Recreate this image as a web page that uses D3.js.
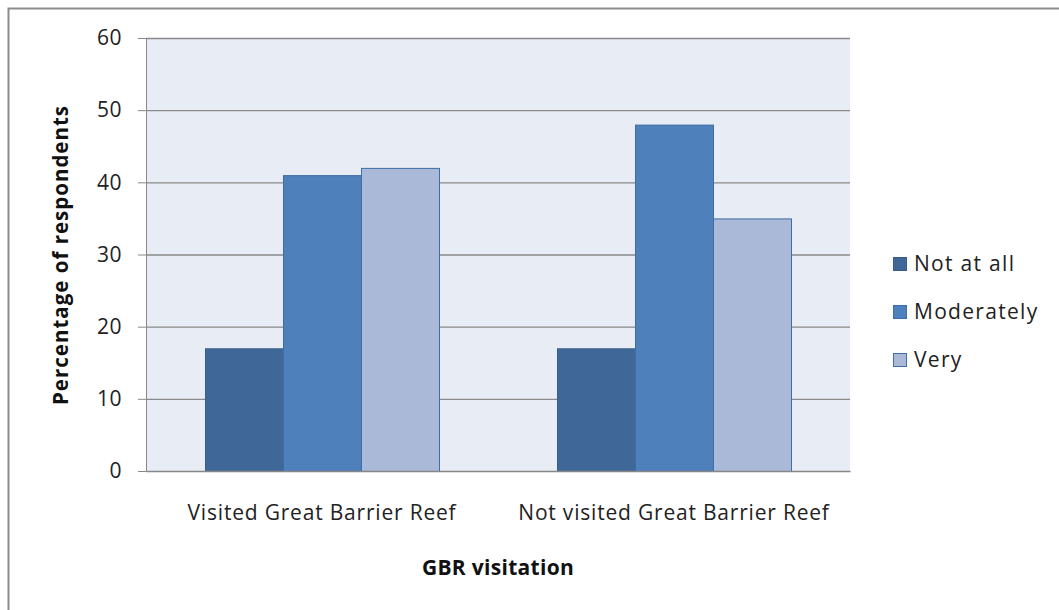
<!DOCTYPE html>
<html>
<head>
<meta charset="utf-8">
<script src="https://cdn.jsdelivr.net/npm/d3@7"></script>
<style>
  body { margin: 0; background: #fff; }
  svg { display: block; font-family: "Open Sans", Lato, sans-serif; }
</style>
</head>
<body>
<svg width="1059" height="610"></svg>
<script>
// data
var categories = ["Visited Great Barrier Reef", "Not visited Great Barrier Reef"]
var seriesNames = ["Not at all", "Moderately", "Very"]
var notAtAll = [17, 17]
var moderately = [41, 48]
var very = [42, 35]
var yTicks = [0, 10, 20, 30, 40, 50, 60]

var seriesValues = [notAtAll, moderately, very]
var colors = ["#3F6899", "#4E80BC", "#A9B9D7"]
var strokes = ["#375C89", "#3F6EA6", "#3F6EA6"]

var svg = d3.select("svg"),
	margin = { top: 38, right: 209, bottom: 139, left: 146 },
	width = +svg.attr("width") - margin.left - margin.right,
	height = +svg.attr("height") - margin.top - margin.bottom

// outer chart frame
svg.append("rect")
	.attr("x", 8.5).attr("y", 8.5)
	.attr("width", 1100).attr("height", 700)
	.attr("fill", "none")
	.attr("stroke", "#8c8c8c")
	.attr("stroke-width", 2)

var x0 = d3.scaleBand().domain(categories).range([0, width])
var x1 = d3.scaleBand().domain(seriesNames).range([0, 234])
var y = d3.scaleLinear().domain([0, 60]).range([height, 0])

var g = svg.append("g")
	.attr("transform", "translate(" + margin.left + "," + margin.top + ")")

// plot background
g.append("rect")
	.attr("width", width).attr("height", height)
	.attr("fill", "#E8ECF4")

// gridlines + y axis
var yAxis = g.append("g")
	.call(d3.axisLeft(y).tickValues(yTicks).tickSize(8).tickPadding(16))
yAxis.select(".domain").attr("stroke", "#888")
yAxis.selectAll(".tick line").attr("stroke", "#888")
yAxis.selectAll("text")
	.attr("font-size", 21)
	.attr("fill", "#222")
	.attr("letter-spacing", 0.5)
	.style("font-family", "'Open Sans', sans-serif")

g.append("g")
	.selectAll("line")
	.data(yTicks.filter(function(d) { return d > 0 }))
	.enter().append("line")
		.attr("x1", 0).attr("x2", width)
		.attr("y1", function(d) { return y(d) + 0.5 })
		.attr("y2", function(d) { return y(d) + 0.5 })
		.attr("stroke", "#8a8a8a")
		.attr("stroke-width", 1.3)

// bars
var groups = g.selectAll(".grp")
	.data(categories)
	.enter().append("g")
		.attr("transform", function(d) { return "translate(" + (x0(d) + (x0.bandwidth() - 234) / 2) + ",0)" })

groups.selectAll("rect")
	.data(function(d, i) { return seriesNames.map(function(s, j) { return { s: s, j: j, v: seriesValues[j][i] } }) })
	.enter().append("rect")
		.attr("x", function(d) { return x1(d.s) + 0.5 })
		.attr("y", function(d) { return y(d.v) + 0.5 })
		.attr("width", x1.bandwidth())
		.attr("height", function(d) { return height - y(d.v) })
		.attr("fill", function(d) { return colors[d.j] })
		.attr("stroke", function(d) { return strokes[d.j] })
		.attr("stroke-width", 1)

// x axis
var xAxis = g.append("g")
	.attr("transform", "translate(0," + height + ")")
	.call(d3.axisBottom(x0).tickSize(0).tickPadding(34))
xAxis.select(".domain").attr("stroke", "#888").attr("stroke-width", 1.3)
xAxis.selectAll("text")
	.attr("font-size", 21)
	.attr("fill", "#222")
	.attr("letter-spacing", 0.8)
	.style("font-family", "'Open Sans', sans-serif")

// axis titles
svg.append("text")
	.attr("x", 498).attr("y", 575)
	.attr("text-anchor", "middle")
	.attr("font-size", 21)
	.attr("font-weight", "bold")
	.attr("fill", "#111")
	.attr("letter-spacing", 0.3)
	.text("GBR visitation")

svg.append("text")
	.attr("transform", "translate(68,255) rotate(-90)")
	.attr("text-anchor", "middle")
	.attr("font-size", 20.5)
	.attr("font-weight", "bold")
	.attr("fill", "#111")
	.attr("letter-spacing", 1)
	.text("Percentage of respondents")

// legend
var legend = svg.append("g")
	.selectAll("g")
	.data(seriesNames)
	.enter().append("g")
		.attr("transform", function(d, i) { return "translate(893," + (257 + i * 48) + ")" })

legend.append("rect")
	.attr("x", 0.5).attr("y", 0.5)
	.attr("width", 13).attr("height", 13)
	.attr("fill", function(d, i) { return colors[i] })
	.attr("stroke", function(d, i) { return strokes[i] })

legend.append("text")
	.attr("x", 21).attr("y", 14)
	.attr("font-size", 21)
	.attr("fill", "#222")
	.attr("letter-spacing", 1.3)
	.text(function(d) { return d })
</script>
</body>
</html>
